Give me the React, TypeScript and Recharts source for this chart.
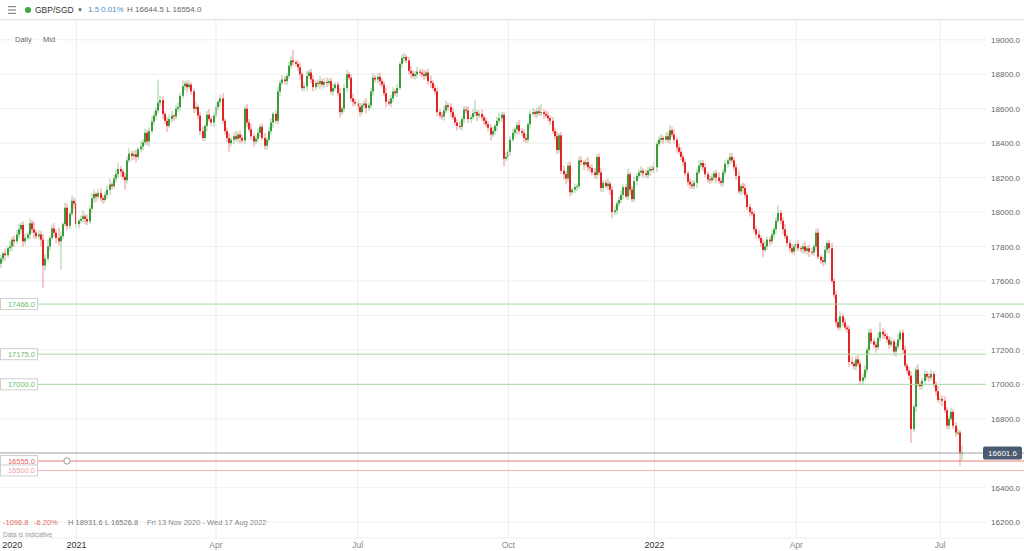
import React from 'react';
import { ComposedChart, Bar, XAxis, YAxis, CartesianGrid, ReferenceLine } from 'recharts';

const W = 1024;
const H = 551;
const FONT = '"Liberation Sans", Arial, sans-serif';
const GREEN = '#3a9d3a';
const RED = '#e22424';

// daily GBP/SGD, 13 Nov 2020 -> mid Jul 2022
const FIRST_OPEN = 17700;
const closes = [
  17730, 17760, 17750, 17790, 17800, 17840, 17830, 17870, 17900, 17925,
  17830, 17850, 17870, 17935, 17900, 17880, 17860, 17870, 17840, 17690,
  17730, 17800, 17850, 17905, 17880, 17850, 17830, 17860, 17930, 18025,
  17920, 17990, 18065, 18050, 17930, 17950, 17960, 17975, 17960, 17945,
  18020, 18080, 18105, 18090, 18110, 18080, 18070, 18100, 18130, 18160,
  18150, 18195, 18220, 18250, 18235, 18205, 18185, 18300, 18340, 18325,
  18335, 18320, 18365, 18380, 18405, 18460, 18410, 18470, 18525, 18560,
  18590, 18635, 18650, 18570, 18530, 18500, 18540, 18560, 18555, 18600,
  18610, 18675, 18730, 18745, 18725, 18740, 18700, 18600, 18610, 18560,
  18470, 18430, 18500, 18565, 18540, 18520, 18560, 18610, 18640, 18660,
  18530, 18470, 18430, 18400, 18420, 18440, 18425, 18450, 18430, 18415,
  18600, 18520, 18480, 18440, 18410, 18425, 18460, 18495, 18430, 18385,
  18420, 18470, 18520, 18570, 18530, 18700, 18750, 18770, 18760, 18790,
  18850, 18880, 18870, 18860, 18840, 18800, 18720, 18730, 18790, 18810,
  18770, 18725, 18750, 18745, 18760, 18740, 18755, 18750, 18760, 18700,
  18720, 18740, 18690, 18580, 18600, 18720, 18800, 18780, 18660, 18640,
  18630, 18610, 18580, 18620, 18630, 18605, 18620, 18700, 18780, 18770,
  18785, 18760, 18740, 18690, 18640, 18630, 18660, 18700, 18690, 18720,
  18860, 18895, 18900, 18880, 18820, 18805, 18790, 18800, 18815, 18810,
  18800, 18790, 18810, 18760, 18750, 18720, 18700, 18580, 18560, 18555,
  18590, 18620, 18610, 18580, 18550, 18520, 18500, 18495, 18540, 18595,
  18590, 18540, 18550, 18575, 18580, 18560, 18570, 18550, 18530, 18510,
  18490, 18450, 18470, 18500, 18530, 18545, 18565, 18310, 18320, 18350,
  18420, 18460, 18480, 18505, 18470, 18460, 18430, 18420, 18510, 18570,
  18580, 18570, 18585, 18575, 18580, 18570, 18560, 18545, 18530, 18470,
  18440, 18360, 18445, 18240, 18220, 18195, 18270, 18115, 18130, 18145,
  18150, 18300, 18290, 18275, 18290, 18260, 18255, 18230, 18215, 18320,
  18230, 18140, 18170, 18150, 18165, 18130, 18000, 18010, 18050, 18070,
  18100, 18145, 18090, 18220, 18130, 18075, 18180, 18210, 18230, 18240,
  18225, 18215, 18240, 18250, 18245, 18260, 18395, 18420, 18430, 18420,
  18440, 18420, 18475, 18450, 18420, 18375, 18350, 18320, 18290, 18225,
  18175, 18160, 18150, 18170, 18230, 18270, 18285, 18260, 18220, 18190,
  18185, 18200, 18225, 18200, 18180, 18170, 18230, 18280, 18300, 18320,
  18300, 18260, 18210, 18120, 18150, 18140, 18100, 18030, 18000, 17990,
  17900, 17870, 17850, 17820, 17780, 17800, 17840, 17830, 17870, 17900,
  17950, 17995, 17950, 17900, 17860, 17820, 17790, 17770, 17800, 17815,
  17790, 17785, 17800, 17775, 17790, 17770, 17765, 17800, 17880, 17740,
  17720, 17710, 17780, 17820, 17790, 17600, 17520, 17360, 17330, 17395,
  17360, 17330, 17320, 17130, 17120, 17105, 17145, 17120, 17020, 17040,
  17085, 17200, 17300, 17250, 17230, 17215, 17270, 17305, 17290, 17280,
  17260, 17230, 17250, 17190, 17220, 17260, 17300, 17200, 17110, 17080,
  17050, 16740, 16870, 17085, 17000, 16990, 17020, 17060, 17045, 17040,
  17060, 17000, 16960, 16910, 16915, 16905, 16850, 16760, 16800, 16840,
  16760, 16720, 16720, 16600.1, 16601.6,
];
// wick length above the body / below the body
const wickUp = [
  20, 12, 26, 10, 32, 16, 22, 28, 34, 14, 22, 27, 13, 30, 18, 45, 16, 24, 21, 33,
  26, 40, 14, 22, 31, 18, 60, 27, 12, 30, 24, 14, 33, 19, 26, 12, 22, 35, 15, 25,
  18, 31, 24, 12, 22, 28, 16, 19, 27, 33, 14, 21, 26, 34, 18, 13, 24, 22, 31, 16,
  21, 27, 12, 33, 19, 24, 16, 22, 35, 25, 18, 135, 28, 22, 14, 20, 26, 30, 12, 23,
  26, 19, 34, 16, 21, 25, 14, 18, 30, 15, 22, 27, 13, 21, 33, 16, 18, 26, 14, 22,
  32, 15, 19, 26, 13, 22, 31, 16, 24, 20, 14, 27, 20, 33, 16, 21, 25, 13, 19, 30,
  16, 22, 26, 12, 21, 33, 16, 24, 20, 14, 22, 26, 60, 14, 19, 27, 13, 22, 31, 16,
  21, 24, 15, 19, 30, 13, 22, 26, 14, 19, 24, 16, 19, 31, 13, 22, 26, 14, 20, 27,
  15, 19, 25, 13, 21, 32, 16, 20, 26, 14, 21, 24, 16, 19, 33, 15, 21, 24, 13, 22,
  14, 19, 25, 15, 21, 28, 16, 19, 27, 14, 22, 26, 13, 21, 31, 15, 19, 24, 16, 21,
  26, 30, 14, 22, 25, 16, 19, 27, 13, 21, 19, 24, 16, 22, 70, 14, 21, 26, 13, 19,
  16, 21, 24, 13, 22, 31, 16, 19, 27, 14, 21, 26, 13, 19, 31, 16, 22, 24, 15, 21,
  24, 14, 21, 31, 50, 16, 19, 24, 13, 22, 21, 26, 14, 19, 31, 16, 21, 24, 14, 19,
  15, 22, 24, 13, 21, 31, 16, 19, 26, 14, 21, 24, 16, 19, 31, 14, 22, 26, 13, 21,
  24, 16, 19, 33, 14, 21, 24, 16, 19, 26, 14, 21, 24, 16, 19, 31, 16, 21, 24, 14,
  21, 26, 30, 19, 31, 14, 21, 24, 16, 19, 16, 21, 24, 13, 22, 31, 16, 19, 24, 16,
  21, 24, 14, 19, 31, 16, 21, 24, 14, 25, 24, 16, 19, 31, 14, 21, 26, 15, 19, 24,
  16, 19, 24, 14, 21, 31, 16, 19, 24, 14, 21, 45, 16, 19, 31, 14, 21, 24, 16, 19,
  24, 14, 21, 31, 16, 19, 24, 14, 21, 26, 14, 21, 24, 16, 19, 31, 16, 21, 24, 30,
  19, 24, 16, 21, 31, 14, 19, 26, 16, 21, 26, 14, 21, 24, 16, 19, 31, 55, 21, 24,
  16, 19, 24, 14, 21, 31, 16, 19, 26, 14, 21, 26, 14, 21, 31, 16, 19, 24, 16, 21,
  24, 16, 19, 31, 14, 21, 24, 16, 19, 26, 16, 21, 24, 15, 43,
];
const wickDown = [
  26, 19, 31, 14, 22, 24, 32, 13, 21, 26, 31, 19, 14, 26, 21, 33, 16, 19, 40, 130,
  31, 21, 24, 13, 22, 31, 24, 165, 19, 14, 26, 19, 14, 31, 21, 24, 16, 19, 31, 21,
  14, 21, 26, 31, 16, 19, 24, 13, 21, 31, 19, 14, 24, 21, 31, 16, 55, 19, 14, 26,
  21, 31, 14, 19, 24, 16, 21, 31, 14, 19, 24, 16, 21, 31, 19, 35, 14, 21, 26, 16,
  19, 24, 16, 21, 31, 14, 19, 26, 16, 21, 24, 16, 19, 31, 14, 21, 24, 16, 19, 26,
  16, 21, 24, 50, 19, 26, 14, 21, 31, 16, 19, 26, 14, 21, 31, 16, 19, 24, 14, 21,
  24, 16, 19, 31, 14, 21, 26, 16, 19, 24, 16, 21, 24, 14, 21, 31, 16, 19, 26, 14,
  21, 24, 16, 19, 31, 14, 21, 24, 16, 19, 26, 16, 19, 31, 16, 21, 24, 14, 21, 26,
  16, 19, 24, 14, 21, 31, 16, 19, 24, 16, 21, 26, 16, 19, 31, 14, 21, 24, 16, 21,
  14, 21, 24, 16, 19, 31, 14, 21, 24, 16, 19, 24, 16, 21, 31, 14, 19, 24, 16, 19,
  24, 16, 21, 31, 14, 19, 26, 14, 21, 24, 16, 21, 24, 14, 19, 31, 14, 21, 24, 16,
  21, 35, 14, 19, 31, 16, 21, 45, 16, 19, 26, 14, 21, 31, 16, 19, 24, 16, 19, 26,
  14, 21, 24, 16, 19, 31, 14, 21, 24, 16, 21, 24, 16, 19, 31, 35, 21, 24, 14, 19,
  24, 16, 19, 31, 14, 21, 24, 16, 19, 26, 16, 21, 24, 14, 21, 31, 35, 19, 24, 16,
  19, 26, 14, 21, 31, 16, 19, 24, 14, 21, 24, 16, 19, 31, 14, 21, 26, 16, 19, 24,
  16, 19, 24, 14, 21, 31, 16, 19, 26, 14, 21, 24, 16, 19, 31, 14, 21, 24, 16, 19,
  24, 14, 21, 31, 16, 19, 24, 14, 21, 26, 16, 19, 24, 14, 21, 31, 16, 21, 24, 16,
  19, 24, 16, 21, 40, 14, 19, 24, 16, 21, 26, 14, 21, 31, 16, 19, 24, 14, 21, 24,
  16, 19, 26, 14, 21, 31, 16, 19, 24, 14, 21, 24, 16, 19, 31, 14, 21, 24, 16, 19,
  24, 16, 21, 31, 14, 19, 26, 16, 19, 24, 14, 21, 24, 16, 19, 31, 14, 21, 26, 16,
  19, 24, 14, 21, 31, 16, 19, 24, 14, 21, 24, 80, 19, 31, 14, 21, 24, 16, 19, 24,
  16, 19, 26, 14, 21, 31, 16, 19, 24, 14, 19, 24, 16, 73, 46,
];

// axes
const priceTicks = [16200, 16400, 16600, 16800, 17000, 17200, 17400, 17600, 17800, 18000, 18200, 18400, 18600, 18800, 19000];
const PRICE_MIN = 16108;
const PRICE_MAX = 19115;
const X_MIN = -0.5;
const X_MAX = 461.8;
const monthTicks = [5, 34, 97, 161, 229, 295, 359, 424];
const monthLabels = ['2020', '2021', 'Apr', 'Jul', 'Oct', '2022', 'Apr', 'Jul'];
const gridMonths = [34, 97, 161, 229, 295, 359, 424];

// horizontal levels drawn on the chart
const levelValues = [17466, 17175, 17000, 16555, 16500];
const levelLabels = ['17466.0', '17175.0', '17000.0', '16555.0', '16500.0'];
const LAST_PRICE = 16601.6;

const levelLine = ['#acd9a6', '#acd9a6', '#acd9a6', '#f07c7c', '#f6b6b6'];
const levelText = ['#6dbd6d', '#6dbd6d', '#6dbd6d', '#e86464', '#f0a0a0'];

const candles = closes.map((close, i) => {
  const open = i === 0 ? FIRST_OPEN : closes[i - 1];
  return {
    i,
    open,
    close,
    high: Math.max(open, close) + wickUp[i],
    low: Math.min(open, close) - wickDown[i],
  };
});

function Candle(props: any) {
  const { x, y, width, height, payload } = props;
  if (!payload || height == null) return null;
  const { open, close, high, low } = payload;
  const top = Math.min(y, y + height);
  const h = Math.abs(height);
  const k = h / (high - low);
  const color = close >= open ? GREEN : RED;
  const left = Math.round(x + width / 2 - 1);
  const bodyTop = top + (high - Math.max(open, close)) * k;
  const bodyH = Math.max(Math.abs(close - open) * k, 1);
  return (
    <g>
      <line x1={left + 1} x2={left + 1} y1={top} y2={top + h} stroke={color} strokeOpacity={0.5} strokeWidth={1} />
      <rect x={left} y={bodyTop} width={2} height={bodyH} fill={color} />
    </g>
  );
}

function PriceTick(props: any) {
  const { x, y, payload } = props;
  // the last-price tag sits on top of the nearest label
  if (Math.abs(payload.value - LAST_PRICE) < 50) return null;
  return (
    <g>
      <rect x={x - 34} y={y - 6} width={37} height={12} fill="#fff" />
      <text x={x} y={y} dy={3} textAnchor="end" fontSize={8} fill="#666" fontFamily={FONT}>
        {Number(payload.value).toFixed(1)}
      </text>
    </g>
  );
}

function MonthTick(props: any) {
  const { x, y, payload } = props;
  const label = monthLabels[monthTicks.indexOf(payload.value)];
  const isYear = /^\d{4}$/.test(label);
  return (
    <text x={x} y={y} dy={1.5} textAnchor="middle" fontSize={isYear ? 9 : 8.5} fill={isYear ? '#333' : '#8a8a8a'} fontFamily={FONT}>
      {label}
    </text>
  );
}

function LevelTag(props: any) {
  const { viewBox, text, color, marker } = props;
  if (!viewBox) return null;
  const { x, y } = viewBox;
  return (
    <g>
      <rect x={x + 0.5} y={y - 5.5} width={37} height={11} fill="#fff" stroke="#cfcfcf" strokeWidth={1} />
      <text x={x + 35} y={y} dy={2.8} textAnchor="end" fontSize={7.5} fill={color} fontFamily={FONT}>
        {text}
      </text>
      {marker && <circle cx={x + 67} cy={y} r={3.2} fill="#fff" stroke="#9a9a9a" strokeWidth={1} />}
    </g>
  );
}

function LastPriceTag(props: any) {
  const { viewBox } = props;
  if (!viewBox) return null;
  const right = viewBox.x + viewBox.width;
  return (
    <g>
      <rect x={right - 41} y={viewBox.y - 6.5} width={39} height={13} rx={2} fill="#4a5a70" />
      <text x={right - 21.5} y={viewBox.y} dy={3} textAnchor="middle" fontSize={8} fill="#fff" fontFamily={FONT}>
        {LAST_PRICE.toFixed(1)}
      </text>
    </g>
  );
}

const small: React.CSSProperties = { position: 'absolute', whiteSpace: 'nowrap', lineHeight: '10px' };

export default function App() {
  return (
    <div style={{ position: 'fixed', left: 0, top: 0, width: W, height: H, background: '#fff', fontFamily: FONT, overflow: 'hidden' }}>
      <ComposedChart width={W} height={H} data={candles} margin={{ top: 20, right: 0, bottom: 0, left: 0 }}>
        <CartesianGrid vertical={false} stroke="#efefef" />
        {gridMonths.map((m) => (
          <ReferenceLine key={'g' + m} x={m} stroke="#ececec" />
        ))}
        <XAxis
          type="number"
          dataKey="i"
          domain={[X_MIN, X_MAX]}
          allowDataOverflow
          ticks={monthTicks}
          interval={0}
          height={13}
          axisLine={false}
          tickLine={false}
          tick={<MonthTick />}
        />
        <YAxis
          orientation="right"
          mirror
          domain={[PRICE_MIN, PRICE_MAX]}
          allowDataOverflow
          ticks={priceTicks}
          interval={0}
          axisLine={false}
          tickLine={false}
          tickSize={4}
          tickMargin={0}
          tick={<PriceTick />}
        />
        {levelValues.map((v, k) => (
          <ReferenceLine
            key={'l' + v}
            y={v}
            stroke={levelLine[k]}
            strokeWidth={1}
            label={<LevelTag text={levelLabels[k]} color={levelText[k]} marker={v === 16555} />}
          />
        ))}
        <ReferenceLine y={LAST_PRICE} stroke="#a2aab6" strokeWidth={1} label={<LastPriceTag />} />
        <Bar dataKey={(d: any) => [d.low, d.high]} barSize={2} shape={<Candle />} isAnimationActive={false} />
      </ComposedChart>

      {/* header */}
      <div style={{ position: 'absolute', left: 0, top: 0, width: W, height: 20, borderBottom: '1px solid #e2e2e2', boxSizing: 'border-box', background: '#fff' }}>
        <svg style={{ position: 'absolute', left: 8, top: 6 }} width={8} height={8}>
          <rect x={0} y={0} width={8} height={1.2} fill="#888" />
          <rect x={0} y={3.4} width={8} height={1.2} fill="#888" />
          <rect x={0} y={6.8} width={8} height={1.2} fill="#888" />
        </svg>
        <div style={{ position: 'absolute', left: 25, top: 7, width: 6, height: 6, borderRadius: 3, background: '#3aa83a' }} />
        <span style={{ ...small, left: 35, top: 5, fontSize: 8.5, color: '#333' }}>GBP/SGD</span>
        <span style={{ ...small, left: 77, top: 5, fontSize: 6, color: '#555' }}>▼</span>
        <span style={{ ...small, left: 88, top: 5, fontSize: 8, color: '#4a8fc9' }}>1.5</span>
        <span style={{ ...small, left: 101, top: 5, fontSize: 8, color: '#4a8fc9' }}>0.01%</span>
        <span style={{ ...small, left: 127, top: 5, fontSize: 8, color: '#666' }}>H 16644.5 L 16554.0</span>
      </div>

      <span style={{ ...small, left: 13, top: 35, fontSize: 7.5, color: '#666', background: '#fff', padding: '0 2px' }}>Daily</span>
      <span style={{ ...small, left: 41, top: 35, fontSize: 7.5, color: '#666', background: '#fff', padding: '0 2px' }}>Mid</span>

      {/* footer stats */}
      <span style={{ ...small, left: 3, top: 518, fontSize: 7.5, color: '#e26a64' }}>-1096.8</span>
      <span style={{ ...small, left: 34, top: 518, fontSize: 7.5, color: '#e26a64' }}>-6.20%</span>
      <span style={{ ...small, left: 68, top: 518, fontSize: 7.5, color: '#777' }}>H 18931.6</span>
      <span style={{ ...small, left: 105, top: 518, fontSize: 7.5, color: '#777' }}>L 16526.8</span>
      <span style={{ ...small, left: 147, top: 518, fontSize: 7.5, color: '#888' }}>Fri 13 Nov 2020 - Wed 17 Aug 2022</span>
      <span style={{ ...small, left: 3, top: 530, fontSize: 6.5, color: '#999' }}>Data is indicative</span>
    </div>
  );
}
